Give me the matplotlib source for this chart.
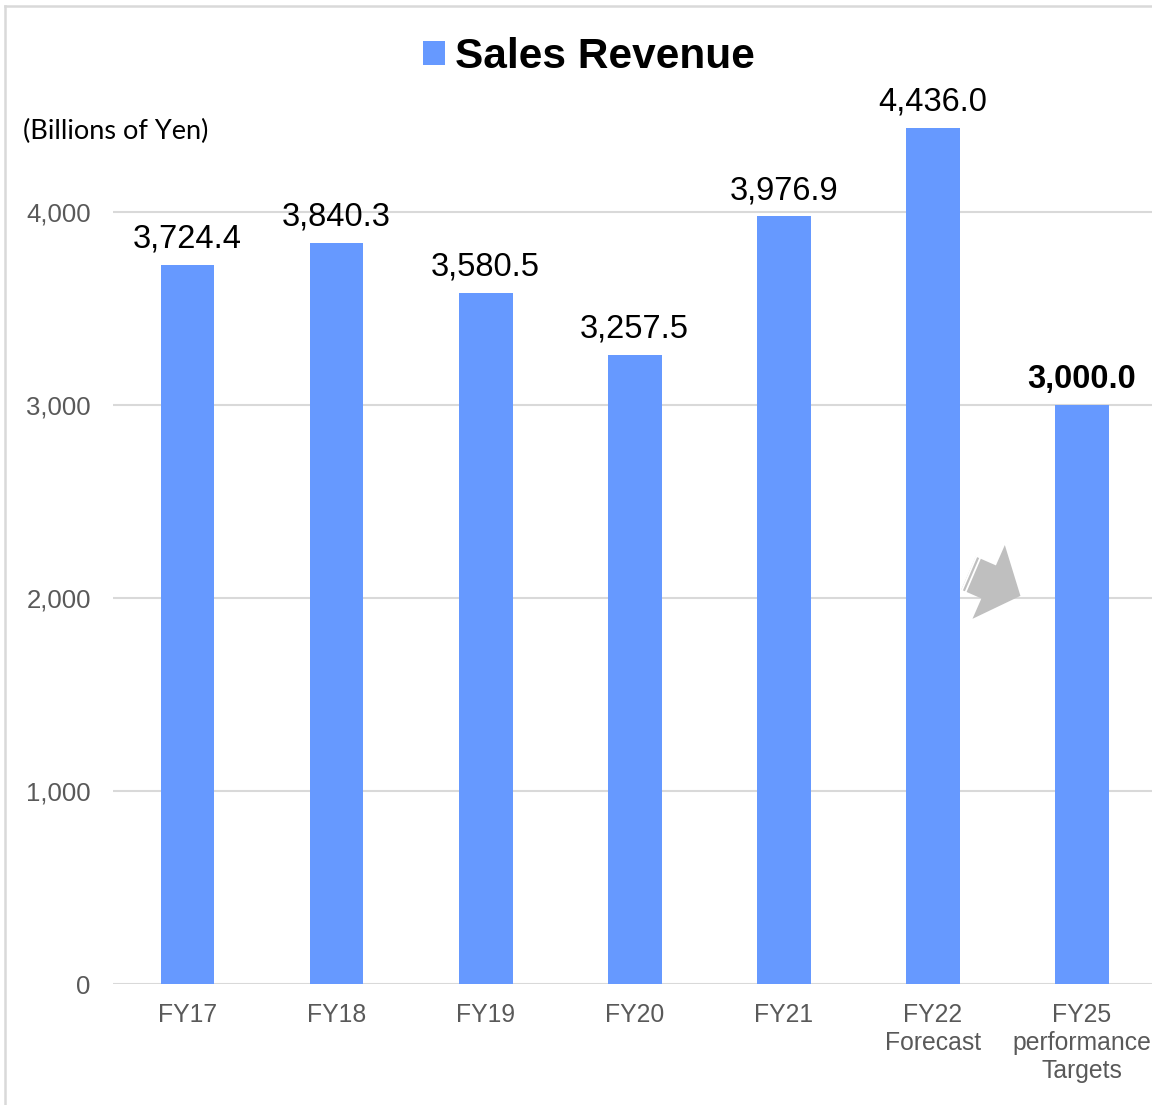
import matplotlib as mpl
import matplotlib.pyplot as plt
from matplotlib.lines import Line2D

mpl.rcParams['font.family'] = ['Liberation Sans', 'DejaVu Sans']

categories = ['FY17', 'FY18', 'FY19', 'FY20', 'FY21', 'FY22\nForecast', 'FY25\nperformance\nTargets']
revenue = [3724.4, 3840.3, 3580.5, 3257.5, 3976.9, 4436.0, 3000.0]
yticks = [0, 1000, 2000, 3000, 4000]

bar_color = '#6699ff'
grid_color = '#d9d9d9'
tick_color = '#595959'

W, H = 1152, 1105
fig = plt.figure(figsize=(W / 100, H / 100), dpi=100)
ax = fig.add_axes([113 / W, 121 / H, 1 - 113 / W, 868.5 / H])

x = list(range(len(categories)))
bars = ax.bar(x, revenue, width=0.36, color=bar_color, zorder=2, label='Sales Revenue')

ax.set_xlim(-0.5, 6.47)
ax.set_ylim(0, 4500)
ax.set_yticks(yticks)
ax.set_yticklabels(['{:,}'.format(v) for v in yticks])
ax.set_xticks(x)
ax.set_xticklabels(categories)
ax.tick_params(axis='y', length=0, pad=16, labelsize=18.5, labelcolor=tick_color)
ax.tick_params(axis='x', length=0, pad=14, labelsize=17.8, labelcolor=tick_color)
ax.grid(axis='y', color=grid_color, linewidth=1.5, zorder=0)
for s in ax.spines.values():
    s.set_visible(False)

labels = ax.bar_label(bars, labels=['{:,.1f}'.format(v) for v in revenue], padding=7.5, fontsize=23.5)
labels[-1].set_fontweight('bold')


def px(xp, yp):
    # picture pixel (from top-left) -> data coords
    return ax.transData.inverted().transform((xp, H - yp))


# arrow towards the FY25 target
ax.annotate('', xy=px(1023, 597), xytext=px(966, 572),
            arrowprops=dict(arrowstyle='simple,head_width=5.8,head_length=2.5,tail_width=2.6',
                            mutation_scale=10, color='#bfbfbf', lw=0), zorder=3)
for off in (3.5, 7.5):
    cx, cy = 966 + 0.919 * off, 572 + 0.394 * off
    p1 = px(cx - 0.394 * 20, cy + 0.919 * 20)
    p2 = px(cx + 0.394 * 20, cy - 0.919 * 20)
    ax.plot([p1[0], p2[0]], [p1[1], p2[1]], color='white', lw=1.3, zorder=4)

# title drawn as a legend entry
fig.legend(handles=[bars], labels=['Sales Revenue'], loc='center', bbox_to_anchor=(589 / W, 1 - 57 / H),
           frameon=False, prop={'size': 30.5, 'weight': 'bold'}, handlelength=0.53, handleheight=0.53,
           handletextpad=0.24, borderpad=0)

fig.text(23 / W, 1 - 131 / H, '(Billions of Yen)', fontsize=19.5, family=['Lato', 'DejaVu Sans'],
         va='center', ha='left')

# chart frame (left and top edges)
fig.add_artist(Line2D([5 / W, 5 / W], [0, 1 - 6 / H], color=grid_color, linewidth=1.8, transform=fig.transFigure))
fig.add_artist(Line2D([5 / W, 1], [1 - 6 / H, 1 - 6 / H], color=grid_color, linewidth=1.8, transform=fig.transFigure))

fig.savefig('out.png', dpi=100)
